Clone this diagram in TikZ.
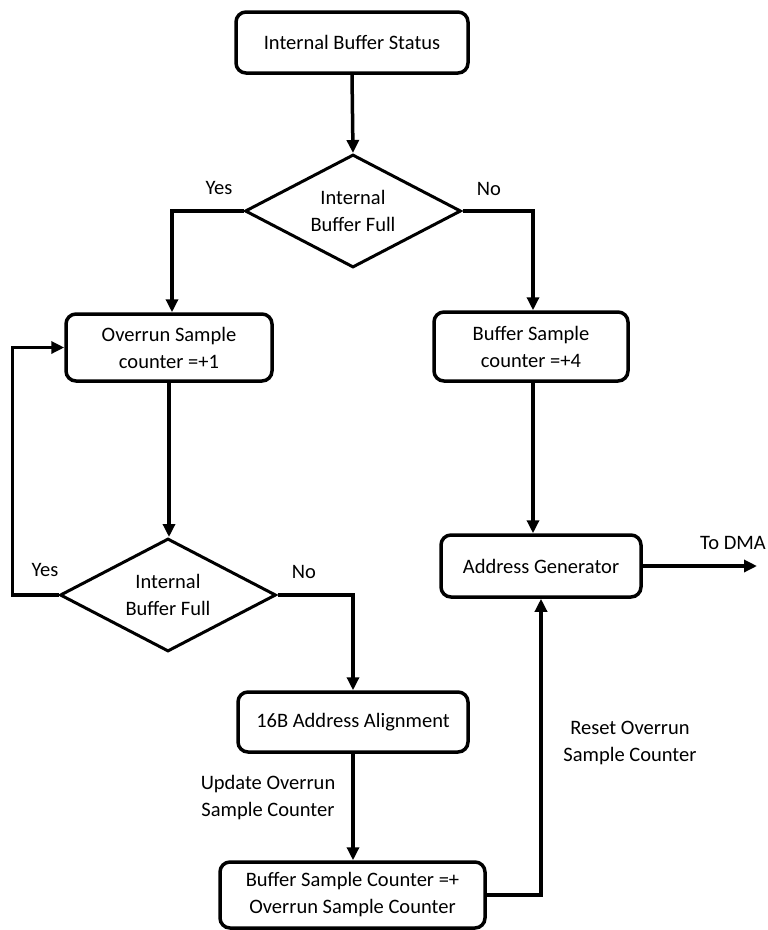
\documentclass[tikz,border=0pt]{standalone}
\usepackage{fontspec}
\setmainfont{Carlito}
\usetikzlibrary{shapes.geometric,arrows.meta}
\begin{document}
\begin{tikzpicture}[x=1pt,y=-1pt,
  txt/.style={font=\fontsize{20.5}{27}\selectfont},
  procbox/.style={txt, draw, line width=3.5pt, rounded corners=10pt, align=center, inner sep=0pt},
  decision/.style={txt, draw, diamond, line width=3pt, align=center, inner sep=0pt,
                   minimum width=216pt, minimum height=113pt, aspect=1.9},
  flow/.style={line width=3.5pt, -{Triangle[length=13pt,width=12pt]}},
  lbl/.style={txt, align=center}]
\useasboundingbox (0,0) rectangle (768,930);

\node[procbox, minimum width=232pt, minimum height=61pt] (status) at (352,42.5) {Internal Buffer Status};
\node[decision] (d1) at (353,211) {Internal\\Buffer Full};
\node[procbox, minimum width=206pt, minimum height=67pt] (overrun) at (169,347.5) {Overrun Sample\\counter =+1};
\node[procbox, minimum width=194pt, minimum height=69pt] (bufs) at (531,346.5) {Buffer Sample\\counter =+4};
\node[decision] (d2) at (168,595) {Internal\\Buffer Full};
\node[procbox, minimum width=200pt, minimum height=62pt] (addr) at (541,566) {Address Generator};
\node[procbox, minimum width=230pt, minimum height=60pt] (align) at (353,722) {16B Address Alignment};
\node[procbox, minimum width=265pt, minimum height=66pt] (sum) at (352.5,895) {Buffer Sample Counter =+\\Overrun Sample Counter};
\coordinate (dma) at (757,566);

\draw[flow] (status.south) -- (d1.north);
\draw[flow] (d1.west) -| ([xshift=3pt]overrun.north);
\draw[flow] (d1.east) -| ([xshift=2pt]bufs.north);
\draw[flow] (overrun.south) -- (overrun.south |- d2.north);
\draw[flow] (d2.west) -- ++(-46,0) |- (overrun.west);
\draw[flow] (d2.east) -| (align.north);
\draw[flow] ([xshift=2pt]bufs.south) -- ([xshift=2pt]bufs.south |- addr.north);
\draw[flow] (addr.east) -- (dma);
\draw[flow] (align.south) -- (align.south |- sum.north);
\draw[flow] (sum.east) -| (addr.south);

\node[lbl] at (219,188) {Yes};
\node[lbl] at (489,189) {No};
\node[lbl] at (45,570) {Yes};
\node[lbl] at (304,572) {No};
\node[lbl] at (733,543) {To DMA};
\node[lbl] at (268,798) {Update Overrun\\Sample Counter};
\node[lbl] at (630,743) {Reset Overrun\\Sample Counter};
\end{tikzpicture}
\end{document}
